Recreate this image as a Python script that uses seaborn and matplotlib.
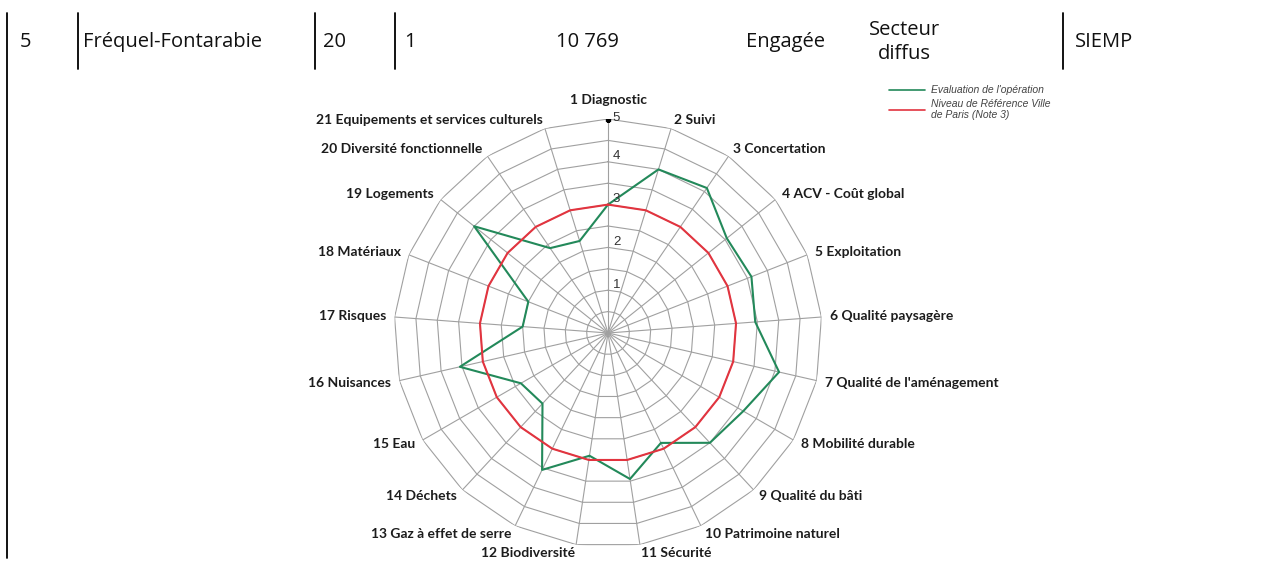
import numpy as np
import pandas as pd
import seaborn as sns
import matplotlib.pyplot as plt
from matplotlib.lines import Line2D

# Data
categories = [
    "1 Diagnostic", "2 Suivi", "3 Concertation", "4 ACV - Coût global",
    "5 Exploitation", "6 Qualité paysagère", "7 Qualité de l'aménagement",
    "8 Mobilité durable", "9 Qualité du bâti", "10 Patrimoine naturel",
    "11 Sécurité", "12 Biodiversité", "13 Gaz à effet de serre",
    "14 Déchets", "15 Eau", "16 Nuisances", "17 Risques", "18 Matériaux",
    "19 Logements", "20 Diversité fonctionnelle",
    "21 Equipements et services culturels",
]
evaluation = [3.0, 4.0, 4.1, 3.55, 3.6, 3.45, 4.1, 3.65, 3.5, 2.85, 3.45,
              2.9, 3.55, 2.25, 2.35, 3.55, 2.0, 2.0, 4.0, 2.4, 2.25]
reference = [3] * len(categories)
scale_ticks = [1, 2, 3, 4, 5]
series_names = ["Evaluation de l'opération",
                "Niveau de Référence Ville\nde Paris (Note 3)"]
table_cells = ["5", "Fréquel-Fontarabie", "20", "1", "10 769", "Engagée",
               "Secteur\ndiffus", "SIEMP"]

W, H = 1281, 562
GREEN = "#23895a"
RED = "#e2343f"
GRID = "#a0a0a0"

sns.set_theme(style="white")
plt.rcParams["font.family"] = ["DejaVu Sans"]

fig = plt.figure(figsize=(W / 100, H / 100), dpi=100)

# --- table row on top
cell_x = [20, 83, 323, 404, 587, 785, 904, 1075]
cell_ha = ["left", "left", "left", "left", "center", "center", "center", "left"]
for txt, x, ha in zip(table_cells, cell_x, cell_ha):
    fig.text(x / W, 1 - 42 / H, txt, ha=ha, va="center", fontsize=14.5,
             family="Open Sans", color="#111111", linespacing=1.25)

for x in [78, 315, 395, 1063]:
    fig.add_artist(Line2D([x / W, x / W], [1 - 13 / H, 1 - 69 / H],
                          color="black", lw=1.3))
fig.add_artist(Line2D([7 / W, 7 / W], [1 - 13 / H, 1 - 558 / H],
                      color="black", lw=1.3))

# --- radar chart
cx, cy, R = 608, 333, 214
ax = fig.add_axes([(cx - R) / W, (H - cy - R) / H, 2 * R / W, 2 * R / H],
                  projection="polar")
ax.set_theta_zero_location("N")
ax.set_theta_direction(-1)
ax.set_ylim(0, 5)
ax.grid(False)
ax.set_xticks([])
ax.set_yticks([])
ax.spines["polar"].set_visible(False)
ax.patch.set_alpha(0)

n = len(categories)
angles = np.linspace(0, 2 * np.pi, n, endpoint=False)
closed = np.append(angles, angles[0])

for v in np.arange(0.5, 5.01, 0.5):
    ax.plot(closed, [v] * (n + 1), color=GRID, lw=0.8, zorder=1)
for t in angles:
    ax.plot([t, t], [0, 5], color=GRID, lw=0.8, zorder=1)

df = pd.DataFrame({
    "angle": np.concatenate([closed, closed]),
    "note": evaluation + evaluation[:1] + reference + reference[:1],
    "serie": [series_names[0]] * (n + 1) + [series_names[1]] * (n + 1),
})
sns.lineplot(data=df, x="angle", y="note", hue="serie", sort=False,
             estimator=None, palette=[GREEN, RED], linewidth=1.5,
             legend=False, ax=ax, zorder=3)
ax.set_xlabel("")
ax.set_ylabel("")

for t, name in zip(angles, categories):
    s = np.sin(t)
    ha = "left" if s > 0.1 else ("right" if s < -0.1 else "center")
    va = "bottom" if t == 0 else "center"
    r = 5.3 if t == 0 else 5.2
    ax.text(t, r, name, ha=ha, va=va, fontsize=10, family="Lato",
            fontweight="bold", color="#1c1c1c")

for v in scale_ticks:
    dy = 1 if v == 5 else 4
    ax.annotate(str(v), xy=(0, v), xytext=(3.5, dy), textcoords="offset points",
                ha="left", va="center", fontsize=9.5, color="#333333",
                family="Liberation Sans", zorder=4)
ax.plot([0], [5], marker="s", ms=2.5, color="black", zorder=4)

handles = [Line2D([], [], color=GREEN, lw=1.2), Line2D([], [], color=RED, lw=1.2)]
fig.legend(handles, series_names, loc="upper right",
           bbox_to_anchor=(1056 / W, 1 - 80 / H), frameon=False,
           prop={"family": "Liberation Sans", "style": "italic", "size": 7.5},
           labelcolor="#444444", handlelength=3.5, handletextpad=0.6,
           labelspacing=0.35, borderpad=0)

fig.savefig("out.png", dpi=100)
